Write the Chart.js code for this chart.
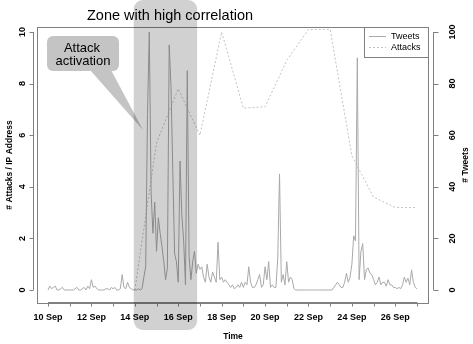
<!DOCTYPE html>
<html><head><meta charset="utf-8">
<script src="https://cdn.jsdelivr.net/npm/chart.js@4/dist/chart.umd.min.js"></script>
<style>html,body{margin:0;padding:0;background:#fff}#wrap{width:473px;height:344px}</style>
</head><body><div id="wrap"><canvas id="c" width="473" height="344"></canvas></div>
<script>
// ---- data ----
const tweetStartDay = 10;      // 10 Sep, 00:00
const tweetStepHours = 2;
const tweetValues = [
  0,1.5,0.5,1,1.5,0,0,0.5,1,0,0,0,
  0,0,0,0.5,1,0,0,0.5,1,0,1.5,0.5,
  4,1,1.5,0.5,0,0,0,0,0.5,0.5,0,1,
  0.5,1,0,0,0.5,6,1,0.5,3,1,0.5,0,
  0,0,0.5,0,0.5,5,9,68,100,38,22,34,
  15,28,22,17,11,4,8.5,95,79,46,14,11,
  3,50,29,19,2,85,13,4,11,15,6.5,10,
  8,9,5,3,10,5,3,7,5,3,18.5,4,
  5,3,4,3,2,1,2,0.5,1,2,1,3,
  1,3,2,9,3,1,1,2,4,6,1,2,
  9,4,11,1,2,1,1,12,45,3,6,2,
  11,3,5,4,0.5,0,0,0,0,0,0,0,
  0,0,0,0,0,0,0,0,0,0,0,0,
  0,0,1,2,3,2,1,1,3,6.5,3,5,
  10,21,19,90,4,15,18,4,8,8.5,6.5,6,
  4,2,3,5,2,3,3,1.5,4,2,2,1,
  1,0.5,1,0.5,2,5,3,4.6,2,7.8,3,1,
  0.5
];
const attackDays   = [14,15,16,17,18,19,20,21,22,23,24,25,26,27];
const attackValues = [0,5.7,7.8,6.0,10,7.05,7.1,8.9,10.1,10.1,5.2,3.6,3.2,3.2];
const dayTicks    = [10,11,12,13,14,15,16,17,18,19,20,21,22,23,24,25,26,27];
const labeledDays = [10,12,14,16,18,20,22,24,26];
const dayLabels   = ['10 Sep','12 Sep','14 Sep','16 Sep','18 Sep','20 Sep','22 Sep','24 Sep','26 Sep'];
const leftTicks   = [0,2,4,6,8,10];
const rightTicks  = [0,20,40,60,80,100];
const seriesNames = ['Tweets','Attacks'];
const zoneDays    = [13.95, 16.87];
const titleText   = 'Zone with high correlation';
const calloutLines = ['Attack','activation'];
const axisTitles  = ['Time','# Attacks / IP Address','# Tweets'];

// ---- chart ----
const tweetColor = '#a9a9a9';
const attackColor = '#c2c2c2';
const tickFont = {family:'Liberation Sans', size:9, weight:'bold'};
const labFont = {family:'Liberation Sans', size:8.5, weight:'bold'};

const tweetPoints = tweetValues.map((v,i)=>({x: tweetStartDay + i*tweetStepHours/24, y: v}));
const attackPoints = attackDays.map((d,i)=>({x: d, y: attackValues[i]}));

const annot = {
  id:'annot',
  afterDraw(chart){
    const {ctx, chartArea:a, scales:{x,y,y2}} = chart;
    ctx.save();
    ctx.strokeStyle = '#808080'; ctx.lineWidth = 1;
    // box
    ctx.strokeRect(a.left+0.5, a.top+0.5, a.right-a.left-1, a.bottom-a.top);
    // left axis
    const lx = a.left - 3.5;
    ctx.beginPath();
    ctx.moveTo(lx, y.getPixelForValue(leftTicks[0])); ctx.lineTo(lx, y.getPixelForValue(leftTicks[leftTicks.length-1]));
    leftTicks.forEach(v=>{const p=Math.round(y.getPixelForValue(v))+0.5; ctx.moveTo(lx,p); ctx.lineTo(lx-4,p);});
    // right axis
    const rx = a.right + 4.5;
    ctx.moveTo(rx, y2.getPixelForValue(rightTicks[0])); ctx.lineTo(rx, y2.getPixelForValue(rightTicks[rightTicks.length-1]));
    rightTicks.forEach(v=>{const p=Math.round(y2.getPixelForValue(v))+0.5; ctx.moveTo(rx,p); ctx.lineTo(rx+5,p);});
    // bottom axis
    const by = a.bottom - 0.5;
    ctx.moveTo(x.getPixelForValue(dayTicks[0]), by); ctx.lineTo(x.getPixelForValue(dayTicks[dayTicks.length-1]), by);
    dayTicks.forEach(v=>{const p=Math.round(x.getPixelForValue(v))+0.5; ctx.moveTo(p,by); ctx.lineTo(p,by+4);});
    ctx.stroke();

    // right axis title
    ctx.fillStyle = '#000';
    ctx.font = 'bold 8.5px "Liberation Sans"';
    ctx.textAlign = 'center'; ctx.textBaseline = 'middle';
    ctx.save(); ctx.translate(466, (a.top+a.bottom)/2); ctx.rotate(-Math.PI/2); ctx.fillText(axisTitles[2],0,0); ctx.restore();

    // callout
    ctx.fillStyle = '#c4c4c4';
    ctx.beginPath();
    ctx.roundRect(47, 36, 72, 35, 6);
    ctx.fill();
    ctx.beginPath();
    ctx.moveTo(90, 70); ctx.lineTo(111, 70); ctx.lineTo(143, 130); ctx.closePath(); ctx.fill();
    ctx.fillStyle = '#000';
    ctx.font = '13px "Liberation Sans"';
    ctx.fillText(calloutLines[0], 82, 48);
    ctx.fillText(calloutLines[1], 83, 61);

    // zone overlay
    const zx0 = x.getPixelForValue(zoneDays[0]), zx1 = x.getPixelForValue(zoneDays[1]);
    ctx.fillStyle = 'rgba(0,0,0,0.18)';
    ctx.beginPath(); ctx.roundRect(zx0, 0, zx1-zx0, 330, 9); ctx.fill();

    // title
    ctx.fillStyle = '#000';
    ctx.font = '14.5px "Liberation Sans"';
    ctx.fillText(titleText, 170, 16);

    // legend
    ctx.strokeStyle = '#808080';
    ctx.strokeRect(364.5, a.top+0.5, a.right-0.5-364.5, 30);
    ctx.lineWidth = 1;
    ctx.strokeStyle = tweetColor;
    ctx.beginPath(); ctx.moveTo(369, 36.5); ctx.lineTo(386, 36.5); ctx.stroke();
    ctx.strokeStyle = attackColor; ctx.setLineDash([2,2]);
    ctx.beginPath(); ctx.moveTo(369, 47.5); ctx.lineTo(386, 47.5); ctx.stroke();
    ctx.setLineDash([]);
    ctx.fillStyle = '#000'; ctx.font = '9px "Liberation Sans"'; ctx.textAlign = 'left';
    ctx.fillText(seriesNames[0], 391, 36.5);
    ctx.fillText(seriesNames[1], 391, 47.5);
    ctx.restore();
  }
};

new Chart(document.getElementById('c'), {
  type:'line',
  data:{datasets:[
    {label:seriesNames[0], data:tweetPoints, yAxisID:'y2', borderColor:tweetColor, borderWidth:1, pointRadius:0, tension:0, fill:false},
    {label:seriesNames[1], data:attackPoints, yAxisID:'y', borderColor:attackColor, borderWidth:1, borderDash:[2,2], pointRadius:0, tension:0, fill:false}
  ]},
  options:{
    responsive:false, animation:false, devicePixelRatio:1,
    layout:{padding:{top:27,left:0,right:0,bottom:0}},
    plugins:{legend:{display:false}, tooltip:{enabled:false}},
    scales:{
      x:{type:'linear', min:9.493, max:27.553,
        afterBuildTicks:s=>{s.ticks = dayTicks.map(v=>({value:v}));},
        ticks:{autoSkip:false, maxRotation:0, minRotation:0, padding:9, font:tickFont, color:'#000',
          callback:v=>{const k=labeledDays.indexOf(v); return k>=0?dayLabels[k]:'';}},
        grid:{display:false, drawTicks:false}, border:{display:false},
        title:{display:true, text:axisTitles[0], font:labFont, color:'#000', padding:{top:0,bottom:2}},
        afterFit:s=>{s.height=41;}
      },
      y:{position:'left', min:-0.504, max:10.194,
        afterBuildTicks:s=>{s.ticks = leftTicks.map(v=>({value:v}));},
        ticks:{minRotation:90, maxRotation:90, crossAlign:'center', padding:9, font:tickFont, color:'#000'},
        grid:{display:false, drawTicks:false}, border:{display:false},
        title:{display:true, text:axisTitles[1], font:labFont, color:'#000', padding:{top:5,bottom:0}},
        afterFit:s=>{s.width=37;}
      },
      y2:{position:'right', min:-5.04, max:101.94,
        afterBuildTicks:s=>{s.ticks = rightTicks.map(v=>({value:v}));},
        ticks:{minRotation:90, maxRotation:90, crossAlign:'center', padding:16, font:tickFont, color:'#000'},
        grid:{display:false, drawTicks:false}, border:{display:false},
        afterFit:s=>{s.width=44;}
      }
    }
  },
  plugins:[annot]
});
</script></body></html>
